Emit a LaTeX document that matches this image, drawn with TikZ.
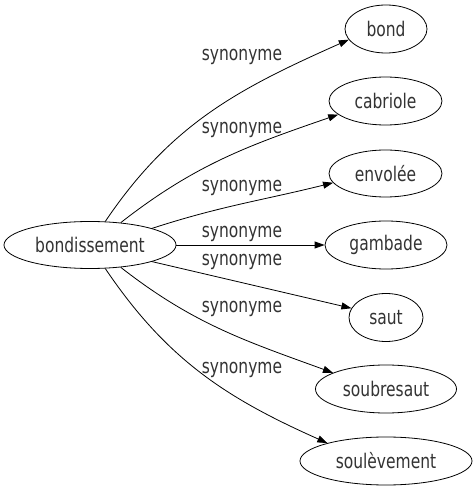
\documentclass[tikz,border=0pt]{standalone}
\usepackage{fontspec}
\setmainfont{DejaVu Sans}
\usetikzlibrary{shapes.geometric,arrows.meta}
\newcommand{\stretchtxt}[1]{\scalebox{1}[1.3]{#1}}
\begin{document}
\begin{tikzpicture}[x=1pt,y=1pt,
  every node/.style={font=\fontsize{15.5}{18}\selectfont, text=black!80},
  word/.style={draw=black, ellipse, inner sep=0pt, line width=0.8pt},
  lbl/.style={inner sep=0pt},
  edge/.style={draw=black, line width=0.8pt, -{Triangle[length=10pt,width=7pt]}}]
\useasboundingbox[fill=white] (0,0) rectangle (476,491);
\node[word, minimum width=172pt, minimum height=47pt] (bondissement) at (90,246) {\stretchtxt{bondissement}};
\node[word, minimum width=82pt, minimum height=48pt] (bond) at (386,462) {\stretchtxt{bond}};
\node[word, minimum width=113pt, minimum height=48pt] (cabriole) at (385.5,390) {\stretchtxt{cabriole}};
\node[word, minimum width=113pt, minimum height=47pt] (envolee) at (385.5,317.5) {\stretchtxt{envolée}};
\node[word, minimum width=122pt, minimum height=48pt] (gambade) at (386,246) {\stretchtxt{gambade}};
\node[word, minimum width=74pt, minimum height=48pt] (saut) at (386,173.5) {\stretchtxt{saut}};
\node[word, minimum width=141pt, minimum height=48pt] (soubresaut) at (386,102) {\stretchtxt{soubresaut}};
\node[word, minimum width=172pt, minimum height=48pt] (soulevement) at (386,30) {\stretchtxt{soulèvement}};

\draw[edge] (bondissement.57) to[out=56,in=204] (bond.196);
\draw[edge] (bondissement.36) to[out=38,in=199] (cabriole.196);
\draw[edge] (bondissement.15) to[out=18,in=194] (envolee.190);
\draw[edge] (bondissement.east) -- (gambade.west);
\draw[edge] (bondissement.-15) -- (saut.165);
\draw[edge] (bondissement.-36) to[out=-38,in=160] (soubresaut.163);
\draw[edge] (bondissement.-57) to[out=-56,in=156] (soulevement.163);

\node[lbl] (l1) at (242,434) {\stretchtxt{synonyme}};
\node[lbl] (l2) at (242,361) {\stretchtxt{synonyme}};
\node[lbl] (l3) at (242,303) {\stretchtxt{synonyme}};
\node[lbl] (l4) at (242,257) {\stretchtxt{synonyme}};
\node[lbl] (l5) at (242,229) {\stretchtxt{synonyme}};
\node[lbl] (l6) at (242,182) {\stretchtxt{synonyme}};
\node[lbl] (l7) at (242,121) {\stretchtxt{synonyme}};
\end{tikzpicture}
\end{document}
